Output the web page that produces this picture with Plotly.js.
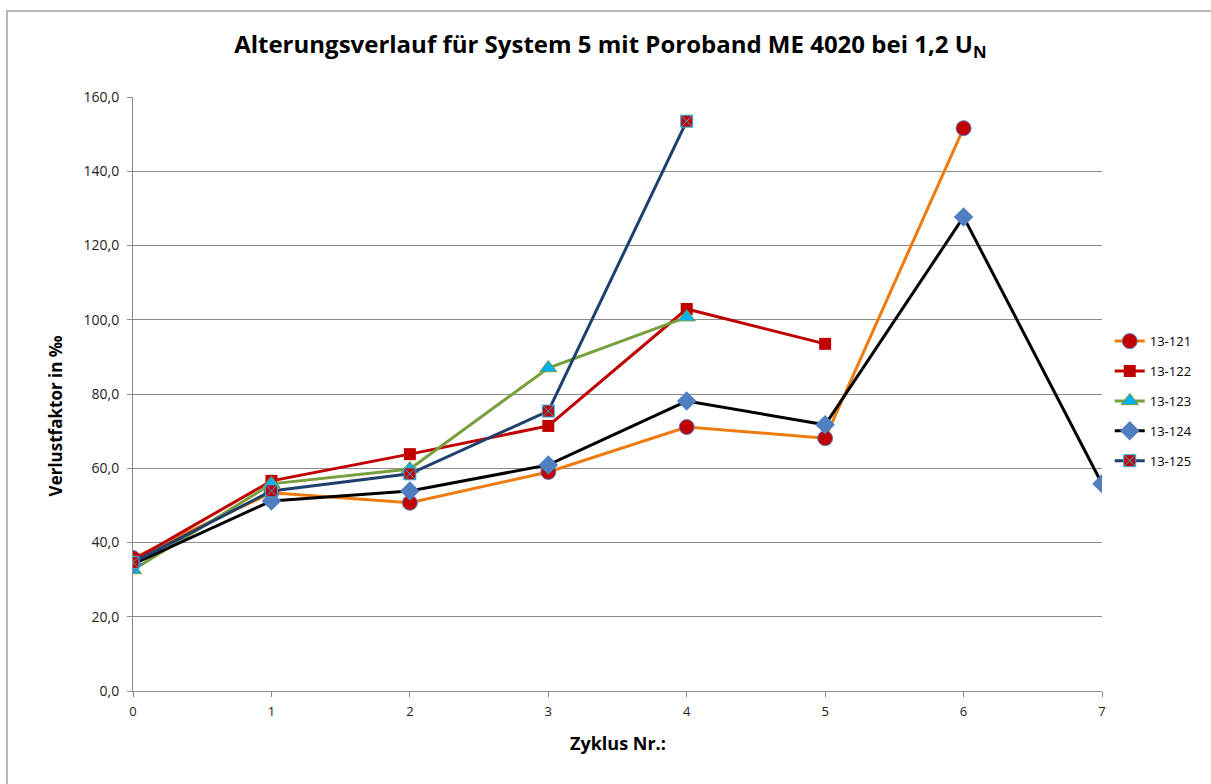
<!DOCTYPE html>
<html>
<head>
<meta charset="utf-8">
<script src="https://cdn.plot.ly/plotly-3.0.1.min.js"></script>
<style>
html,body{margin:0;padding:0;background:#fff;}
#chart{width:1211px;height:784px;}
#frame{position:absolute;left:6px;top:10px;width:1220px;height:800px;border-left:2px solid #b8b8b8;border-top:2px solid #b8b8b8;pointer-events:none;}
</style>
</head>
<body>
<div id="chart"></div>
<div id="frame"></div>
<script>
const seriesNames = ["13-121", "13-122", "13-123", "13-124", "13-125"];
const x121 = [0, 1, 2, 3, 4, 5, 6];
const y121 = [35.8, 53.4, 50.7, 59.0, 71.1, 68.1, 151.6];
const x122 = [0, 1, 2, 3, 4, 5];
const y122 = [35.2, 56.6, 63.8, 71.4, 102.9, 93.5];
const x123 = [0, 1, 2, 3, 4];
const y123 = [32.6, 55.8, 59.8, 87.0, 100.7];
const x124 = [0, 1, 2, 3, 4, 5, 6, 7];
const y124 = [34.2, 51.2, 53.9, 60.9, 78.1, 71.7, 127.7, 55.8];
const x125 = [0, 1, 2, 3, 4];
const y125 = [34.6, 53.9, 58.5, 75.4, 153.5];
const yTickVals = [0, 20, 40, 60, 80, 100, 120, 140, 160];
const xTickVals = [0, 1, 2, 3, 4, 5, 6, 7];
const xTitle = "Zyklus Nr.:";
const yTitle = "Verlustfaktor in ‰";

const FONT = "'Open Sans', 'Liberation Sans', sans-serif";

const traces = [
  {x: x121, y: y121, name: seriesNames[0], legendgroup: "a", mode: "lines+markers",
   line: {color: "#ee7b10", width: 3},
   marker: {symbol: "circle", size: 15, color: "#c00000", line: {color: "#5a7cc0", width: 1}}},
  {x: x122, y: y122, name: seriesNames[1], legendgroup: "b", mode: "lines+markers",
   line: {color: "#c00000", width: 3},
   marker: {symbol: "square", size: 12, color: "#c00000", line: {color: "#c00000", width: 0}}},
  {x: x123, y: y123, name: seriesNames[2], legendgroup: "c", mode: "lines+markers",
   line: {color: "#77a03c", width: 3},
   marker: {symbol: "triangle-up", size: 15, color: "#00b0f0", line: {color: "#77a03c", width: 1}}},
  {x: x124, y: y124, name: seriesNames[3], legendgroup: "d", mode: "lines+markers",
   line: {color: "#000000", width: 3},
   marker: {symbol: "diamond", size: 15, color: "#4f7fc0", line: {color: "#4f7fc0", width: 0}}},
  {x: x125, y: y125, name: seriesNames[4], legendgroup: "e", mode: "lines+markers",
   line: {color: "#1f3f6e", width: 3},
   marker: {symbol: "square-x", size: 12, color: "#c00000", line: {color: "#2ab8e8", width: 1}}}
];

const layout = {
  width: 1211, height: 784,
  paper_bgcolor: "#ffffff", plot_bgcolor: "#ffffff",
  margin: {l: 133, r: 109, t: 97, b: 93},
  separators: ", ",
  font: {family: FONT, color: "#000"},
  title: {text: "<b>Alterungsverlauf für System 5 mit Poroband ME 4020 bei 1,2 U<sub>N</sub></b>",
          font: {family: FONT, size: 24, color: "#000"},
          x: 0.504, xref: "container", xanchor: "center", y: 0.943, yref: "container", yanchor: "middle"},
  xaxis: {range: [0, 7], tickvals: xTickVals, ticks: "outside", ticklen: 5, tickcolor: "#8c8c8c",
          showline: true, linecolor: "#8c8c8c", linewidth: 1, showgrid: false, zeroline: false,
          ticklabelstandoff: 3,
          tickfont: {size: 13, color: "#222"}},
  yaxis: {range: [0, 160], tickvals: yTickVals, tickformat: ".1f", ticks: "outside", ticklen: 5, tickcolor: "#8c8c8c",
          showline: true, linecolor: "#8c8c8c", linewidth: 1, showgrid: true, gridcolor: "#8c8c8c", gridwidth: 1,
          ticklabelstandoff: 5,
          zeroline: false, tickfont: {size: 14, color: "#222"}},
  annotations: [
    {text: "<b>" + xTitle + "</b>", xref: "paper", yref: "paper", x: 0.5, y: -0.087,
     xanchor: "center", yanchor: "middle", showarrow: false, font: {size: 18, color: "#000"}},
    {text: "<b>" + yTitle + "</b>", xref: "paper", yref: "paper", x: -0.0805, y: 0.464,
     xanchor: "center", yanchor: "middle", textangle: -90, showarrow: false, font: {size: 17, color: "#000"}}
  ],
  legend: {x: 1.008, xanchor: "left", y: 0.488, yanchor: "middle", font: {size: 13, color: "#000"},
           tracegroupgap: 10, itemwidth: 30, bgcolor: "rgba(0,0,0,0)"},
  showlegend: true
};

Plotly.newPlot("chart", traces, layout, {displayModeBar: false, staticPlot: true});
</script>
</body>
</html>
